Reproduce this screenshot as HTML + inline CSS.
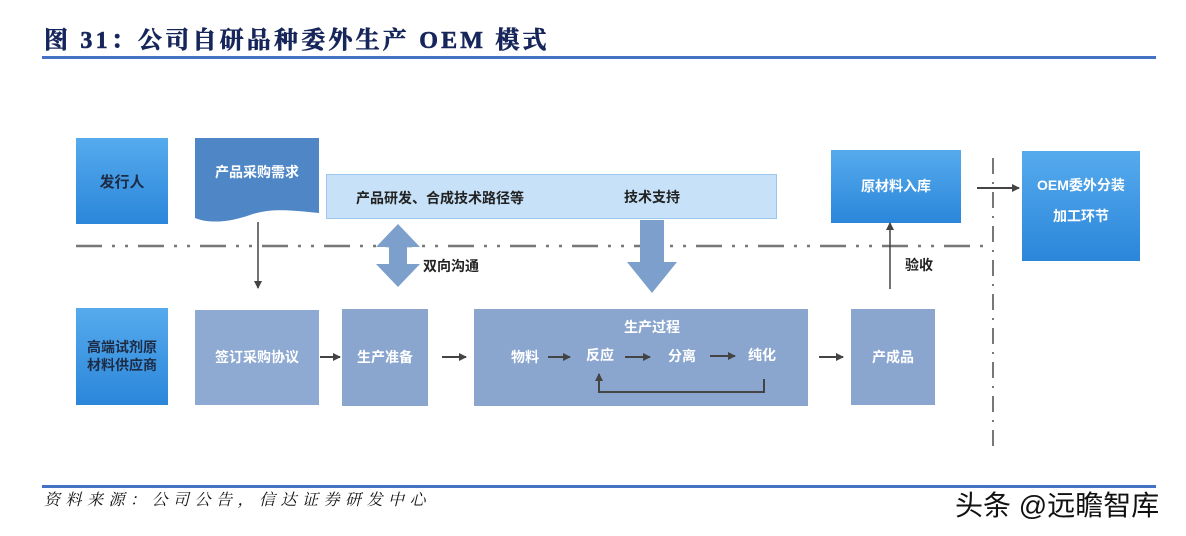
<!DOCTYPE html>
<html><head><meta charset="utf-8"><style>
html,body{margin:0;padding:0;background:#fff;}
svg{display:block;}
</style></head><body>
<svg width="1186" height="536" viewBox="0 0 1186 536" xmlns="http://www.w3.org/2000/svg" font-family="'Liberation Sans','Noto Sans CJK SC',sans-serif">
<defs>
<linearGradient id="g1" x1="0" y1="0" x2="0" y2="1"><stop offset="0" stop-color="#56abed"/><stop offset="1" stop-color="#2b86da"/></linearGradient>
<marker id="ah" markerWidth="8" markerHeight="8" refX="7" refY="4" orient="auto" markerUnits="userSpaceOnUse"><path d="M0,0 L8,4 L0,8 z" fill="#444"/></marker>
</defs>
<text x="44" y="48" font-family="'Liberation Serif','Noto Serif CJK SC',serif" font-weight="bold" font-size="24" letter-spacing="3.2" fill="#17265a" stroke="#17265a" stroke-width="0.6">图 31：公司自研品种委外生产 OEM 模式</text>
<rect x="42" y="56" width="1114" height="3" fill="#4472c4"/>

<g font-weight="bold">
<rect x="76" y="138" width="92" height="86" fill="url(#g1)"/>
<text x="122" y="187" text-anchor="middle" font-size="15" fill="#1d2b45">发行人</text>
<path d="M195,138 H319 V213 C290,210 270,208 250,215 C230,222 210,224 195,218 Z" fill="#4f86c6"/>
<text x="257" y="177" text-anchor="middle" font-size="14" fill="#fff">产品采购需求</text>
<rect x="326.5" y="174.5" width="450" height="44" fill="#c6e1f8" stroke="#9cc6ec"/>
<text x="440" y="203" text-anchor="middle" font-size="14" fill="#222">产品研发、合成技术路径等</text>
<text x="652" y="202" text-anchor="middle" font-size="14" fill="#222">技术支持</text>
<rect x="831" y="150" width="130" height="73" fill="url(#g1)"/>
<text x="896" y="191" text-anchor="middle" font-size="14" fill="#fff">原材料入库</text>
<rect x="1022" y="151" width="118" height="110" fill="url(#g1)"/>
<text x="1081" y="190" text-anchor="middle" font-size="14" fill="#fff">OEM委外分装</text>
<text x="1081" y="221" text-anchor="middle" font-size="14" fill="#fff">加工环节</text>
</g>

<line x1="76" y1="246" x2="985" y2="246" stroke="#777" stroke-width="2.5" stroke-dasharray="26,10,3,10,3,10"/>
<line x1="993" y1="158" x2="993" y2="447" stroke="#777" stroke-width="2" stroke-dasharray="16,8,2,8"/>

<line x1="258" y1="222" x2="258" y2="288" stroke="#444" stroke-width="1.5" marker-end="url(#ah)"/>
<path d="M398,224 L420,247 L407,247 L407,264 L420,264 L398,287 L376,264 L389,264 L389,247 L376,247 Z" fill="#7d9fcc"/>
<text x="423" y="271" font-size="14" font-weight="bold" fill="#222">双向沟通</text>
<path d="M640,220 H664 V262 H677 L652,293 L627,262 H640 Z" fill="#7d9fcc"/>
<line x1="890" y1="289" x2="890" y2="223" stroke="#444" stroke-width="1.5" marker-end="url(#ah)"/>
<text x="905" y="270" font-size="14" font-weight="bold" fill="#222">验收</text>
<line x1="977" y1="188" x2="1019" y2="188" stroke="#444" stroke-width="2" marker-end="url(#ah)"/>

<g font-weight="bold">
<rect x="76" y="308" width="92" height="97" fill="url(#g1)"/>
<text x="122" y="352" text-anchor="middle" font-size="14" fill="#1d2b45">高端试剂原</text>
<text x="122" y="370" text-anchor="middle" font-size="14" fill="#1d2b45">材料供应商</text>
<rect x="195" y="310" width="124" height="95" fill="#8eaad2"/>
<text x="257" y="362" text-anchor="middle" font-size="14" fill="#fff">签订采购协议</text>
<rect x="342" y="309" width="86" height="97" fill="#8aa6cf"/>
<text x="385" y="362" text-anchor="middle" font-size="14" fill="#fff">生产准备</text>
<rect x="474" y="309" width="334" height="97" fill="#8aa6cf"/>
<text x="652" y="332" text-anchor="middle" font-size="14" fill="#fff">生产过程</text>
<text x="525" y="362" text-anchor="middle" font-size="14" fill="#fff">物料</text>
<text x="600" y="360" text-anchor="middle" font-size="14" fill="#fff">反应</text>
<text x="682" y="361" text-anchor="middle" font-size="14" fill="#fff">分离</text>
<text x="762" y="360" text-anchor="middle" font-size="14" fill="#fff">纯化</text>
<rect x="851" y="309" width="84" height="96" fill="#8aa6cf"/>
<text x="893" y="362" text-anchor="middle" font-size="14" fill="#fff">产成品</text>
</g>

<g stroke="#444" stroke-width="2" fill="none">
<line x1="320" y1="357" x2="340" y2="357" marker-end="url(#ah)"/>
<line x1="442" y1="357" x2="466" y2="357" marker-end="url(#ah)"/>
<line x1="548" y1="357" x2="570" y2="357" marker-end="url(#ah)"/>
<line x1="625" y1="357" x2="650" y2="357" marker-end="url(#ah)"/>
<line x1="710" y1="356" x2="735" y2="356" marker-end="url(#ah)"/>
<line x1="819" y1="357" x2="843" y2="357" marker-end="url(#ah)"/>
<polyline points="764,379 764,392 599,392 599,374" marker-end="url(#ah)"/>
</g>

<rect x="42" y="485" width="1114" height="3" fill="#4472c4"/>
<text x="44" y="505" font-family="'Liberation Serif','Noto Serif CJK SC',serif" font-style="italic" font-size="16" letter-spacing="5.5" fill="#111">资料来源：公司公告，信达证券研发中心</text>
<text x="955" y="515" font-size="28" fill="#111">头条 @远瞻智库</text>
</svg>
</body></html>
